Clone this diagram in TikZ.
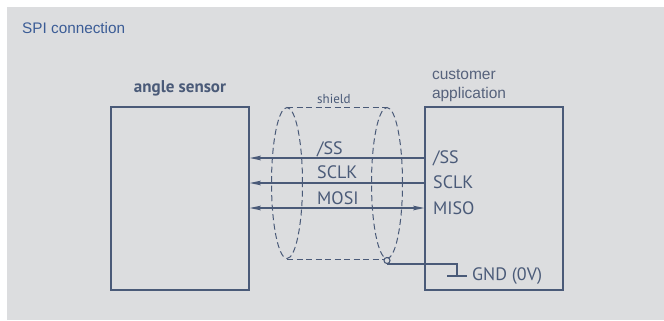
\documentclass[tikz,border=0pt]{standalone}
\usepackage{fontspec}
\setmainfont{Liberation Sans}
\newfontfamily\dinfont{PT Sans}
\usetikzlibrary{arrows.meta, positioning, shapes.geometric}

\definecolor{panelgrey}{HTML}{DCDDDF}
\definecolor{wire}{HTML}{4A5A78}
\definecolor{titleblue}{HTML}{3B5C96}
\definecolor{appgrey}{HTML}{56627C}

\begin{document}
\begin{tikzpicture}[x=1bp, y=-1bp, >={Stealth[length=11bp, width=4.5bp, inset=1.5bp]},
    devbox/.style={rectangle, draw=wire, line width=1.4bp, minimum width=138bp, minimum height=183bp, inner sep=0pt},
    devtitle/.style={font=\dinfont\bfseries\fontsize{17bp}{18bp}\selectfont, text=wire},
    pin/.style={font=\dinfont\fontsize{18bp}{18bp}\selectfont, text=wire, anchor=base west, inner sep=0pt},
    wireline/.style={draw=wire, line width=1.2bp},
    shieldline/.style={draw=wire, line width=1bp, dash pattern=on 6bp off 3.5bp},
    shieldend/.style={ellipse, shieldline, minimum width=31bp, minimum height=151bp, inner sep=0pt}]
    \useasboundingbox (0,0) rectangle (664,320);
    \fill[white] (0,0) rectangle (664,320);
    \fill[panelgrey] (7,7) rectangle (664,320);

    \node[anchor=base west, inner sep=0pt, text=titleblue, font=\fontsize{15.3bp}{18bp}\selectfont] (title) at (22,33) {SPI connection};

    \node[devbox] (sensor) at (180,198.5) {};
    \node[devbox] (app) at (494,198.5) {};
    \node[devtitle, above=7bp of sensor] (sensorname) {angle sensor};
    \node[align=left, inner sep=0pt, text=appgrey, font=\fontsize{15.5bp}{18.6bp}\selectfont, above right=4.5bp and 7.5bp of app.north west] (appname) {customer\\application};

    \node[shieldend] (shieldL) at (287,183) {};
    \node[shieldend] (shieldR) at (387,183) {};
    \draw[shieldline] (shieldL.north) -- (shieldR.north);
    \draw[shieldline] (shieldL.south) -- (shieldR.south);
    \node[font=\dinfont\fontsize{13bp}{14bp}\selectfont, text=wire, anchor=base west, inner sep=0pt] (shieldname) at (317,103) {shield};

    \coordinate (ssY) at (0,158);
    \coordinate (sclkY) at (0,183);
    \coordinate (mosiY) at (0,208);
    \draw[wireline, line width=1.7bp, ->] (app.west |- ssY) -- (sensor.east |- ssY);
    \draw[wireline, ->] (app.west |- sclkY) -- (sensor.east |- sclkY);
    \draw[wireline, <->] (sensor.east |- mosiY) -- (app.west |- mosiY);

    \node[pin] (busSS) at (317,154) {/SS};
    \node[pin] (busSCLK) at (317,178) {SCLK};
    \node[pin] (busMOSI) at (317,204) {MOSI};
    \node[pin] (appSS) at (433,163) {/SS};
    \node[pin] (appSCLK) at (433,188) {SCLK};
    \node[pin] (appMISO) at (433,214) {MISO};

    \node[circle, draw=wire, fill=panelgrey, line width=1.1bp, minimum size=6bp, inner sep=0pt] (drain) at ([yshift=-1.5bp]shieldR.south) {};
    \coordinate (gnd) at (457,276);
    \draw[wireline, line width=1.4bp] (drain.south) -| (gnd);
    \draw[wireline, line width=1.4bp] ([xshift=-10bp]gnd) -- ([xshift=10bp]gnd);
    \node[pin, right=15bp of gnd] (gndname) {GND (0V)};
\end{tikzpicture}
\end{document}
